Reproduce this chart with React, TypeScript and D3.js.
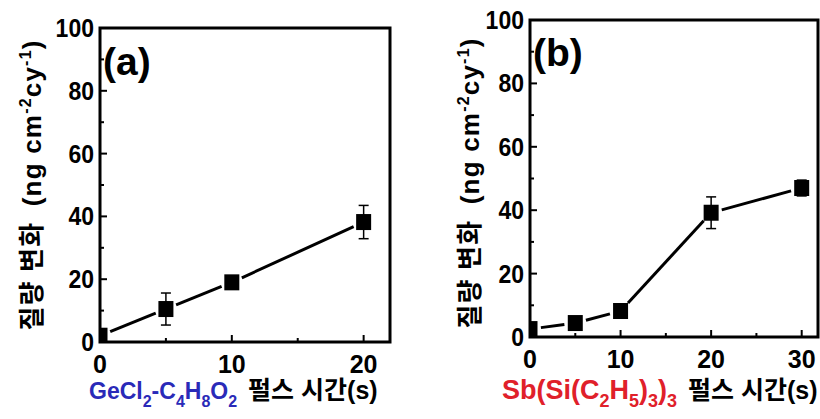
import React, { useEffect, useRef } from 'react';
import * as d3 from 'd3';

// panel (a) GeCl2-C4H8O2
const timeA = [0, 5, 10, 20];
const massA = [2, 10.5, 19, 38.2];
const errA = [0, 5.1, 0, 5.3];
const xTicksA = [0, 10, 20];
const xMinorA = [5, 15];

// panel (b) Sb(Si(C2H5)3)3
const timeB = [0, 5, 10, 20, 30];
const massB = [2.5, 4.4, 8.2, 39.2, 47];
const errB = [0, 0, 0, 5, 2.5];
const xTicksB = [0, 10, 20, 30];
const xMinorB = [5, 15, 25];

const yTicks = [0, 20, 40, 60, 80, 100];
const yMinor = [10, 30, 50, 70, 90];

const FONT = "'Liberation Sans', Arial, 'Noto Sans CJK KR', sans-serif";

type Panel = {
  id: string;
  left: number; top: number; right: number; bottom: number;
  xMax: number;
  xs: number[]; ys: number[]; errs: number[];
  xTicks: number[]; xMinor: number[];
  tag: string; tagY: number;
  labelX: number; labelY: number;
  chem: { t: string; sub?: boolean }[];
  chemColor: string;
  chemX: number; chemSize: number;
};

const panels: Panel[] = [
  {
    id: 'a', left: 100, top: 28, right: 390, bottom: 342, xMax: 22,
    xs: timeA, ys: massA, errs: errA, xTicks: xTicksA, xMinor: xMinorA,
    tag: '(a)', tagY: 75, labelX: 41, labelY: 185,
    chem: [{ t: 'GeCl' }, { t: '2', sub: true }, { t: '-C' }, { t: '4', sub: true }, { t: 'H' }, { t: '8', sub: true }, { t: 'O' }, { t: '2', sub: true }],
    chemColor: '#2a2ab8', chemX: 89, chemSize: 23,
  },
  {
    id: 'b', left: 530, top: 20, right: 818, bottom: 337, xMax: 31.8,
    xs: timeB, ys: massB, errs: errB, xTicks: xTicksB, xMinor: xMinorB,
    tag: '(b)', tagY: 66, labelX: 479, labelY: 183,
    chem: [{ t: 'Sb(Si(C' }, { t: '2', sub: true }, { t: 'H' }, { t: '5', sub: true }, { t: ')' }, { t: '3', sub: true }, { t: ')' }, { t: '3', sub: true }],
    chemColor: '#e0202a', chemX: 502, chemSize: 27,
  },
];

const drawPanel = (svg: d3.Selection<SVGSVGElement, unknown, null, undefined>, p: Panel) => {
  const x = d3.scaleLinear().domain([0, p.xMax]).range([p.left, p.right]);
  const y = d3.scaleLinear().domain([0, 100]).range([p.bottom, p.top]);
  const g = svg.append('g');

  g.append('clipPath').attr('id', 'clip-' + p.id)
    .append('rect')
    .attr('x', p.left).attr('y', p.top)
    .attr('width', p.right - p.left).attr('height', p.bottom - p.top);

  const plot = g.append('g').attr('clip-path', `url(#clip-${p.id})`);

  // connecting line with gaps around markers
  const gap = 11;
  for (let i = 0; i < p.xs.length - 1; i++) {
    const x1 = x(p.xs[i]), y1 = y(p.ys[i]);
    const x2 = x(p.xs[i + 1]), y2 = y(p.ys[i + 1]);
    const len = Math.hypot(x2 - x1, y2 - y1);
    const ux = (x2 - x1) / len, uy = (y2 - y1) / len;
    plot.append('line')
      .attr('x1', x1 + ux * gap).attr('y1', y1 + uy * gap)
      .attr('x2', x2 - ux * gap).attr('y2', y2 - uy * gap)
      .attr('stroke', '#000').attr('stroke-width', 3);
  }

  // error bars
  p.xs.forEach((d, i) => {
    if (!p.errs[i]) return;
    const cx = x(d);
    const t = y(p.ys[i] + p.errs[i]), b = y(p.ys[i] - p.errs[i]);
    plot.append('line').attr('x1', cx).attr('x2', cx).attr('y1', t).attr('y2', b)
      .attr('stroke', '#000').attr('stroke-width', 1.5);
    [t, b].forEach((yy) => {
      plot.append('line').attr('x1', cx - 5).attr('x2', cx + 5).attr('y1', yy).attr('y2', yy)
        .attr('stroke', '#000').attr('stroke-width', 1.5);
    });
  });

  // square markers
  plot.selectAll('rect.m')
    .data(p.xs)
    .enter()
    .append('rect')
    .attr('class', 'm')
    .attr('x', (d) => x(d) - 7.5)
    .attr('y', (d, i) => y(p.ys[i]) - 8)
    .attr('width', 15)
    .attr('height', 16)
    .attr('fill', '#000');

  // ticks (inward)
  p.xTicks.forEach((t) => {
    g.append('line').attr('x1', x(t)).attr('x2', x(t)).attr('y1', p.bottom).attr('y2', p.bottom - 7)
      .attr('stroke', '#000').attr('stroke-width', 2);
  });
  p.xMinor.forEach((t) => {
    g.append('line').attr('x1', x(t)).attr('x2', x(t)).attr('y1', p.bottom).attr('y2', p.bottom - 4)
      .attr('stroke', '#000').attr('stroke-width', 2);
  });
  yTicks.forEach((t) => {
    g.append('line').attr('x1', p.left).attr('x2', p.left + 7).attr('y1', y(t)).attr('y2', y(t))
      .attr('stroke', '#000').attr('stroke-width', 2);
  });
  yMinor.forEach((t) => {
    g.append('line').attr('x1', p.left).attr('x2', p.left + 4).attr('y1', y(t)).attr('y2', y(t))
      .attr('stroke', '#000').attr('stroke-width', 2);
  });

  // frame
  g.append('rect')
    .attr('x', p.left).attr('y', p.top)
    .attr('width', p.right - p.left).attr('height', p.bottom - p.top)
    .attr('fill', 'none').attr('stroke', '#000').attr('stroke-width', 3);

  // tick labels
  g.selectAll('text.yt')
    .data(yTicks)
    .enter()
    .append('text')
    .attr('x', p.left - 6)
    .attr('y', (d) => y(d) + 9)
    .attr('text-anchor', 'end')
    .attr('font-family', FONT).attr('font-weight', 'bold').attr('font-size', 25)
    .attr('transform', `translate(${p.left - 6},0) scale(0.92,1) translate(${-(p.left - 6)},0)`)
    .text((d) => d);

  g.selectAll('text.xt')
    .data(p.xTicks)
    .enter()
    .append('text')
    .attr('x', (d) => x(d))
    .attr('y', p.bottom + 31)
    .attr('text-anchor', 'middle')
    .attr('font-family', FONT).attr('font-weight', 'bold').attr('font-size', 25)
    .text((d) => d);

  // panel tag
  g.append('text')
    .attr('x', p.left + 3).attr('y', p.tagY)
    .attr('font-family', FONT).attr('font-weight', 'bold').attr('font-size', 39)
    .text(p.tag);

  // y label
  const yl = g.append('text')
    .attr('transform', `translate(${p.labelX},${p.labelY}) rotate(-90)`)
    .attr('text-anchor', 'middle')
    .attr('font-family', FONT).attr('font-weight', 'bold').attr('font-size', 26)
    .attr('letter-spacing', 1.2);
  yl.append('tspan').text('질량 변화');
  yl.append('tspan').attr('dx', 7).text(' (ng cm');
  yl.append('tspan').attr('dy', -10).attr('font-size', 16).text('-2');
  yl.append('tspan').attr('dy', 10).text('cy');
  yl.append('tspan').attr('dy', -10).attr('font-size', 16).text('-1');
  yl.append('tspan').attr('dy', 10).text(')');

  // x label
  const sub = Math.round(p.chemSize * 0.68);
  const xl = g.append('text')
    .attr('x', p.chemX).attr('y', 399)
    .attr('font-family', FONT).attr('font-weight', 'bold').attr('font-size', p.chemSize);
  let shifted = false;
  p.chem.forEach((c) => {
    const ts = xl.append('tspan').attr('fill', p.chemColor).text(c.t);
    if (c.sub && !shifted) { ts.attr('dy', 8).attr('font-size', sub); shifted = true; }
    else if (c.sub) { ts.attr('font-size', sub); }
    else if (shifted) { ts.attr('dy', -8); shifted = false; }
  });
  const rest = xl.append('tspan').attr('fill', '#000').attr('font-size', 25).attr('dx', 11).text('펄스 시간(s)');
  if (shifted) rest.attr('dy', -8);
};

export default function App() {
  const ref = useRef<SVGSVGElement>(null);

  useEffect(() => {
    const svg = d3.select(ref.current as SVGSVGElement);
    svg.selectAll('*').remove();
    panels.forEach((p) => drawPanel(svg, p));
  }, []);

  return (
    <svg
      ref={ref}
      width={820}
      height={419}
      style={{ position: 'absolute', left: 0, top: 0, background: '#fff' }}
    />
  );
}
